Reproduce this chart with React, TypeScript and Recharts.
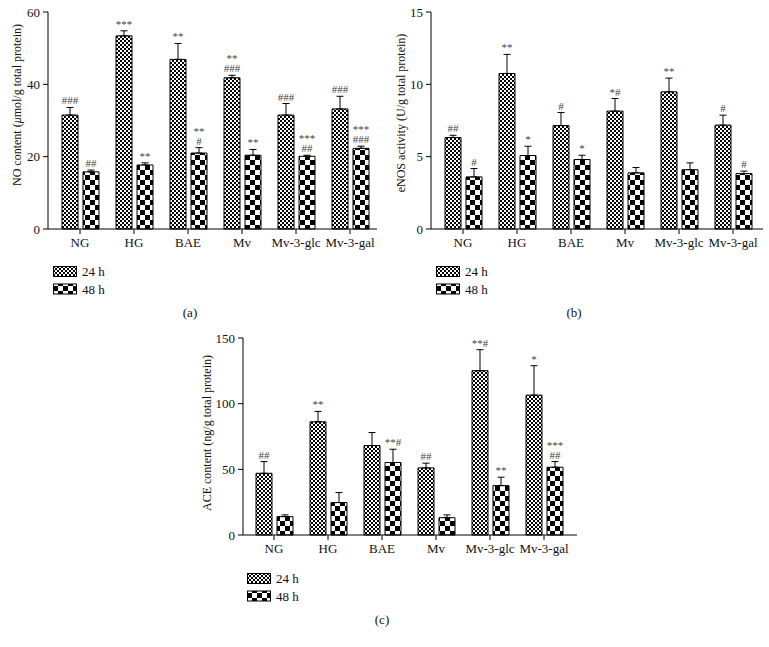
import React from 'react';
import { BarChart, Bar, XAxis, YAxis, ErrorBar, LabelList } from 'recharts';

const groups = ['NG', 'HG', 'BAE', 'Mv', 'Mv-3-glc', 'Mv-3-gal'];
const seriesNames = ['24 h', '48 h'];

// (a) NO content
const no24 = [31.5, 53.4, 46.9, 41.8, 31.5, 33.2];
const no24Err = [2.1, 1.4, 4.4, 0.7, 3.2, 3.5];
const no48 = [15.8, 17.7, 21.0, 20.4, 20.1, 22.3];
const no48Err = [0.5, 0.6, 1.5, 1.6, 0.3, 0.6];
const no24Sig = ['###', '***', '**', '**\n###', '###', '###'];
const no48Sig = ['##', '**', '**\n#', '**', '***\n##', '***\n###'];
const noTicks = [0, 20, 40, 60];

// (b) eNOS activity
const enos24 = [6.32, 10.75, 7.15, 8.15, 9.48, 7.18];
const enos24Err = [0.16, 1.32, 0.9, 0.87, 0.95, 0.69];
const enos48 = [3.6, 5.08, 4.8, 3.88, 4.1, 3.83];
const enos48Err = [0.58, 0.64, 0.3, 0.37, 0.47, 0.17];
const enos24Sig = ['##', '**', '#', '*#', '**', '#'];
const enos48Sig = ['#', '*', '*', '', '', '#'];
const enosTicks = [0, 5, 10, 15];

// (c) ACE content
const ace24 = [47, 86.2, 68.1, 51.1, 125.1, 106.5];
const ace24Err = [8.9, 7.9, 9.9, 3.6, 16, 22.4];
const ace48 = [14, 24.7, 55.2, 13.2, 37.6, 51.6];
const ace48Err = [1.3, 7.6, 10.1, 2.1, 6.4, 4.3];
const ace24Sig = ['##', '**', '', '##', '**#', '*'];
const ace48Sig = ['', '', '**#', '', '**', '***\n##'];
const aceTicks = [0, 50, 100, 150];

const FONT = '"Liberation Serif", "Times New Roman", serif';

function buildRows(v24: number[], e24: number[], v48: number[], e48: number[]) {
  return groups.map((g, i) => ({
    group: g,
    v24: v24[i],
    e24: [0, e24[i]],
    v48: v48[i],
    e48: [0, e48[i]],
  }));
}

// stars / hashes above the error bar; pixel scale taken from the bar itself
const sigLabel = (sig: string[], vals: number[], errs: number[]) => (props: any) => {
  const vb = props.viewBox || props;
  const i = props.index;
  const text = sig[i];
  if (!text) return null;
  const h = Math.abs(vb.height);
  const top = Math.min(vb.y, vb.y + vb.height);
  const errTop = top - (errs[i] * h) / vals[i];
  const cx = vb.x + vb.width / 2;
  const lines = text.split('\n');
  return (
    <text textAnchor="middle" fontSize={11} fill="#444" fontFamily={FONT}>
      {lines.map((l, k) => (
        <tspan key={k} x={cx} y={errTop - 3 - (lines.length - 1 - k) * 10}>
          {l}
        </tspan>
      ))}
    </text>
  );
};

interface PanelProps {
  left: number;
  top: number;
  width: number;
  height: number;
  right: number;
  yWidth: number;
  padding: { left: number; right: number };
  ticks: number[];
  v24: number[];
  e24: number[];
  v48: number[];
  e48: number[];
  s24: string[];
  s48: string[];
  yLabel: React.ReactNode;
  labelX: number;
  labelY: number;
}

function Panel(p: PanelProps) {
  const rows = buildRows(p.v24, p.e24, p.v48, p.e48);
  const max = p.ticks[p.ticks.length - 1];
  return (
    <div style={{ position: 'absolute', left: p.left, top: p.top }}>
      <BarChart
        width={p.width}
        height={p.height}
        data={rows}
        margin={{ top: 12, right: p.right, bottom: 0, left: 0 }}
        barSize={16}
        barGap={5}
      >
        <XAxis
          dataKey="group"
          interval={0}
          height={30}
          padding={p.padding}
          axisLine={{ stroke: '#000' }}
          tickLine={{ stroke: '#000' }}
          tickSize={5}
          tickMargin={4}
          tick={{ fill: '#111', fontSize: 13, fontFamily: FONT }}
        />
        <YAxis
          width={p.yWidth}
          domain={[0, max]}
          ticks={p.ticks}
          interval={0}
          axisLine={{ stroke: '#000' }}
          tickLine={{ stroke: '#000' }}
          tickSize={5}
          tickMargin={3}
          tick={{ fill: '#111', fontSize: 13, fontFamily: FONT }}
          label={{
            content: () => (
              <text
                transform={`translate(${p.labelX},${p.labelY}) rotate(-90)`}
                textAnchor="middle"
                dominantBaseline="central"
                fontSize={12}
                fill="#111"
                fontFamily={FONT}
              >
                {p.yLabel}
              </text>
            ),
          }}
        />
        <Bar dataKey="v24" name={seriesNames[0]} fill="url(#fineCheck)" stroke="#000" strokeWidth={1} isAnimationActive={false}>
          <ErrorBar dataKey="e24" direction="y" width={3.5} stroke="#000" strokeWidth={1} />
          <LabelList dataKey="v24" content={sigLabel(p.s24, p.v24, p.e24)} />
        </Bar>
        <Bar dataKey="v48" name={seriesNames[1]} fill="url(#coarseCheck)" stroke="#000" strokeWidth={1} isAnimationActive={false}>
          <ErrorBar dataKey="e48" direction="y" width={3.5} stroke="#000" strokeWidth={1} />
          <LabelList dataKey="v48" content={sigLabel(p.s48, p.v48, p.e48)} />
        </Bar>
      </BarChart>
    </div>
  );
}

function Legend({ x, y }: { x: number; y: number }) {
  return (
    <g transform={`translate(${x},${y})`}>
      {seriesNames.map((name, i) => (
        <g key={name}>
          <rect
            x={0.5}
            y={0.5 + i * 17.5}
            width={23}
            height={10}
            fill={i === 0 ? 'url(#fineCheck)' : 'url(#coarseCheck)'}
            stroke="#000"
          />
          <text x={29} y={10 + i * 17.5} fontSize={13} fill="#111" fontFamily={FONT}>
            {name}
          </text>
        </g>
      ))}
    </g>
  );
}

export default function App() {
  return (
    <div style={{ position: 'absolute', left: 0, top: 0, width: 769, height: 647, background: '#fff' }}>
      <Panel
        left={0}
        top={0}
        width={385}
        height={259}
        right={8}
        yWidth={48}
        padding={{ left: 5, right: 0 }}
        ticks={noTicks}
        v24={no24}
        e24={no24Err}
        v48={no48}
        e48={no48Err}
        s24={no24Sig}
        s48={no48Sig}
        yLabel={
          <>
            NO content (<tspan fontStyle="italic">μ</tspan>mol/g total protein)
          </>
        }
        labelX={17}
        labelY={105}
      />
      <Panel
        left={380}
        top={0}
        width={389}
        height={259}
        right={6}
        yWidth={51}
        padding={{ left: 5, right: 3 }}
        ticks={enosTicks}
        v24={enos24}
        e24={enos24Err}
        v48={enos48}
        e48={enos48Err}
        s24={enos24Sig}
        s48={enos48Sig}
        yLabel="eNOS activity (U/g total protein)"
        labelX={21}
        labelY={113}
      />
      <Panel
        left={195}
        top={326}
        width={385}
        height={239}
        right={3}
        yWidth={48}
        padding={{ left: 4, right: 6 }}
        ticks={aceTicks}
        v24={ace24}
        e24={ace24Err}
        v48={ace48}
        e48={ace48Err}
        s24={ace24Sig}
        s48={ace48Sig}
        yLabel="ACE content (ng/g total protein)"
        labelX={12}
        labelY={107}
      />
      <svg
        width={769}
        height={647}
        style={{ position: 'absolute', left: 0, top: 0, pointerEvents: 'none' }}
      >
        <defs>
          <pattern id="fineCheck" patternUnits="userSpaceOnUse" width={4} height={4}>
            <rect width={4} height={4} fill="#fff" />
            <rect x={0} y={0} width={2} height={2} fill="#000" />
            <rect x={2} y={2} width={2} height={2} fill="#000" />
          </pattern>
          <pattern id="coarseCheck" patternUnits="userSpaceOnUse" width={10} height={10}>
            <rect width={10} height={10} fill="#fff" />
            <rect x={0} y={0} width={5} height={5} fill="#000" />
            <rect x={5} y={5} width={5} height={5} fill="#000" />
          </pattern>
        </defs>
        <Legend x={53} y={266} />
        <Legend x={436} y={266} />
        <Legend x={247} y={573} />
        <text x={190} y={317} textAnchor="middle" fontSize={13} fill="#111" fontFamily={FONT}>(a)</text>
        <text x={574} y={317} textAnchor="middle" fontSize={13} fill="#111" fontFamily={FONT}>(b)</text>
        <text x={382} y={624} textAnchor="middle" fontSize={13} fill="#111" fontFamily={FONT}>(c)</text>
      </svg>
    </div>
  );
}
